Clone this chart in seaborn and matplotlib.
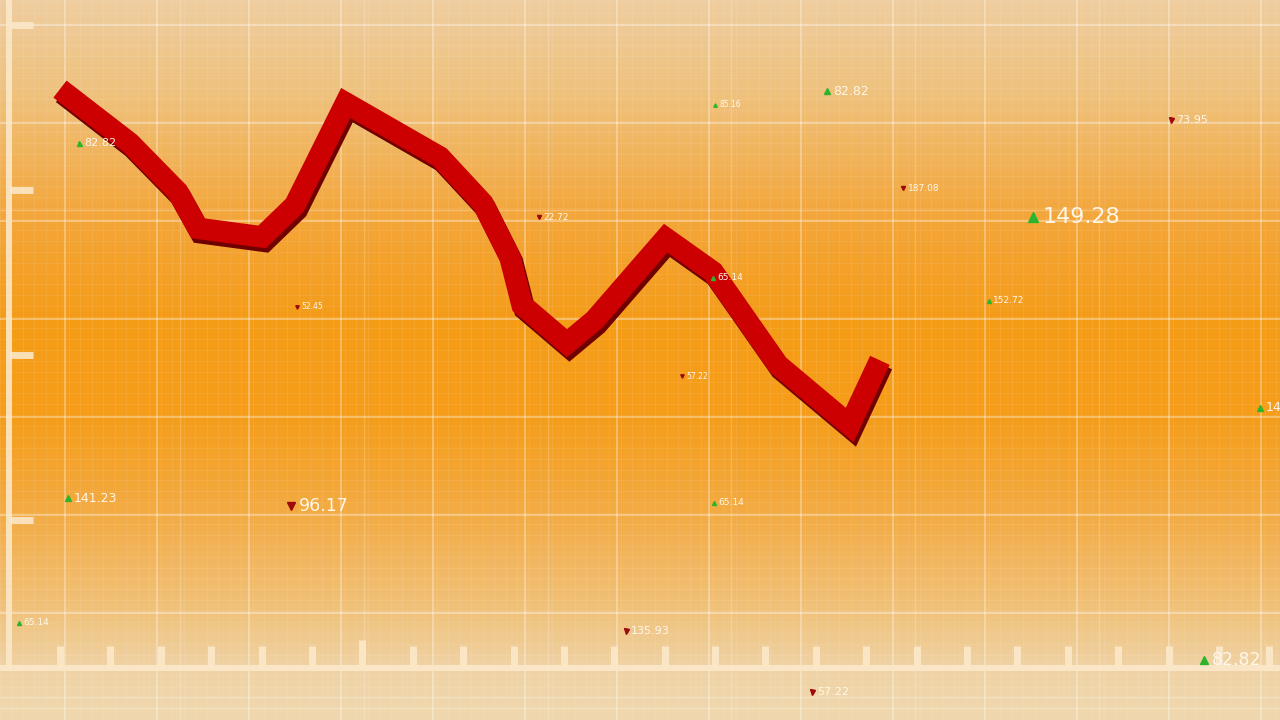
import numpy as np
import matplotlib
matplotlib.use("Agg")
import matplotlib.pyplot as plt
import matplotlib.patheffects as pe
from matplotlib.colors import LinearSegmentedColormap
import seaborn as sns

# ---- data ----
# ribbon: time step vs price
time = [0, 1.39, 2.34, 2.74, 4.01, 4.66, 5.67, 7.54, 8.39, 8.93, 9.17,
        10.06, 10.61, 12.02, 12.96, 14.25, 15.67, 16.27]
price = [165.3, 157.1, 149.7, 144.2, 142.9, 147.7, 163.2, 155.0, 148.0, 139.8, 132.6,
         126.8, 130.3, 142.7, 137.6, 123.5, 114.4, 124.2]

# floating quotes
quote_t = [0.38, 15.22, 13.0, 9.5, 16.73, 19.31, 4.70, 18.43, 12.96, 12.34,
           22.04, 23.81, 0.16, 4.58, 12.98, -0.81, 11.23, 14.92, 22.70]
quote_p = [157.1, 165.0, 162.9, 145.9, 150.3, 145.9, 132.3, 133.2, 136.7, 121.8,
           160.6, 117.0, 103.3, 102.1, 102.6, 84.4, 83.2, 73.9, 78.8]
quote_text = ["82.82", "82.82", "85.16", "22.72", "187.08", "149.28", "52.45", "152.72",
              "65.14", "57.22", "73.95", "14", "141.23", "96.17", "65.14", "65.14",
              "135.93", "57.22", "82.82"]
quote_up = [True, True, True, False, False, True, False, True, True, False,
            False, True, True, False, True, True, False, False, True]
quote_class = ["m", "l", "xs", "s", "s", "xxl", "xs", "s", "s", "xs",
               "m", "l", "l", "xl", "s", "s", "m", "m", "xl"]

# ---- styles ----
font_sizes = {"xs": 5.5, "s": 6.5, "m": 8, "l": 9, "xl": 12.5, "xxl": 16}
up_col = "#2cb52c"
down_col = "#9c0a0a"
text_col = "#fff7ea"
cream = "#fbe8c8"

xlim = (-1.19, 24.21)
ylim = (69.7, 178.8)

sns.set_theme(style="white")
plt.rcParams["font.family"] = ["DejaVu Sans"]

fig = plt.figure(figsize=(12.8, 7.2), dpi=100)
ax = fig.add_axes([0, 0, 1, 1])
ax.axis("off")

# ---- background gradient ----
bg = LinearSegmentedColormap.from_list("bg", [
    (0.0, "#eecd9f"), (0.13, "#efc17c"), (0.3, "#f3a63a"), (0.45, "#f59c17"),
    (0.58, "#f59d1a"), (0.72, "#f3ac46"), (0.86, "#f0c480"), (0.93, "#efd3a6"),
    (1.0, "#efd7ad")])
grad = np.linspace(0, 1, 720).reshape(-1, 1)
ax.imshow(grad, cmap=bg, aspect="auto", origin="upper",
          extent=(xlim[0], xlim[1], ylim[0], ylim[1]), zorder=0)

# ---- grid ----
fine_x = np.arange(xlim[0], xlim[1], 1.825 / 8)
fine_y = np.arange(ylim[0], ylim[1], 1.65)
ax.vlines(fine_x, *ylim, color="white", alpha=0.08, lw=0.8, zorder=1)
ax.hlines(fine_y, *xlim, color="white", alpha=0.08, lw=0.8, zorder=1)

grid_x = np.arange(0.1, 24.3, 1.825)
grid_y = 175 - 14.85 * np.arange(7)
ax.vlines(grid_x, *ylim, color="white", alpha=0.4, lw=1.1, zorder=1)
ax.vlines(grid_x[1::2] + 0.45, *ylim, color="white", alpha=0.2, lw=1.0, zorder=1)
ax.hlines(grid_y, *xlim, color="white", alpha=0.45, lw=1.1, zorder=1)
ax.hlines([147.0, 73.2, 71.5], *xlim, color="white", alpha=0.25, lw=1.0, zorder=1)

# ---- axis bars ----
ax.plot([-1.01, -1.01], [77.2, ylim[1]], color=cream, lw=4.3, alpha=0.9, zorder=2,
        solid_capstyle="butt")
for p in [175, 150, 125, 100]:
    ax.plot([-1.01, -0.54], [p, p], color=cream, lw=5, alpha=0.9, zorder=2,
            solid_capstyle="butt")
ax.plot(xlim, [77.6, 77.6], color=cream, lw=4.3, alpha=0.95, zorder=2)
for k in range(25):
    top = 81.8 if k == 6 else 80.9
    ax.plot([k, k], [77.6, top], color=cream, lw=5, alpha=0.95, zorder=2,
            solid_capstyle="butt")

# ---- red ribbon ----
sns.lineplot(x=time, y=price, sort=False, ax=ax, color="#cc0000", linewidth=15.5,
             zorder=5)
line = ax.lines[-1]
line.set_solid_joinstyle("miter")
line.set_solid_capstyle("butt")
line.set_path_effects([
    pe.SimpleLineShadow(offset=(1.8, -3.2), shadow_color="#700000", alpha=1),
    pe.Normal()])

# ---- floating quotes ----
for t, p, txt, up, cls in zip(quote_t, quote_p, quote_text, quote_up, quote_class):
    fs = font_sizes[cls]
    ms = fs * 0.45
    ax.plot(t, p, marker="^" if up else "v", markersize=ms, ls="none",
            color=up_col if up else down_col, zorder=6)
    ax.annotate(txt, (t, p), xytext=(ms * 0.8 + 1, 0), textcoords="offset points",
                va="center", ha="left", fontsize=fs, color=text_col, zorder=6)

ax.set_xlim(*xlim)
ax.set_ylim(*ylim)

fig.savefig("out.png", dpi=100)
plt.close(fig)
